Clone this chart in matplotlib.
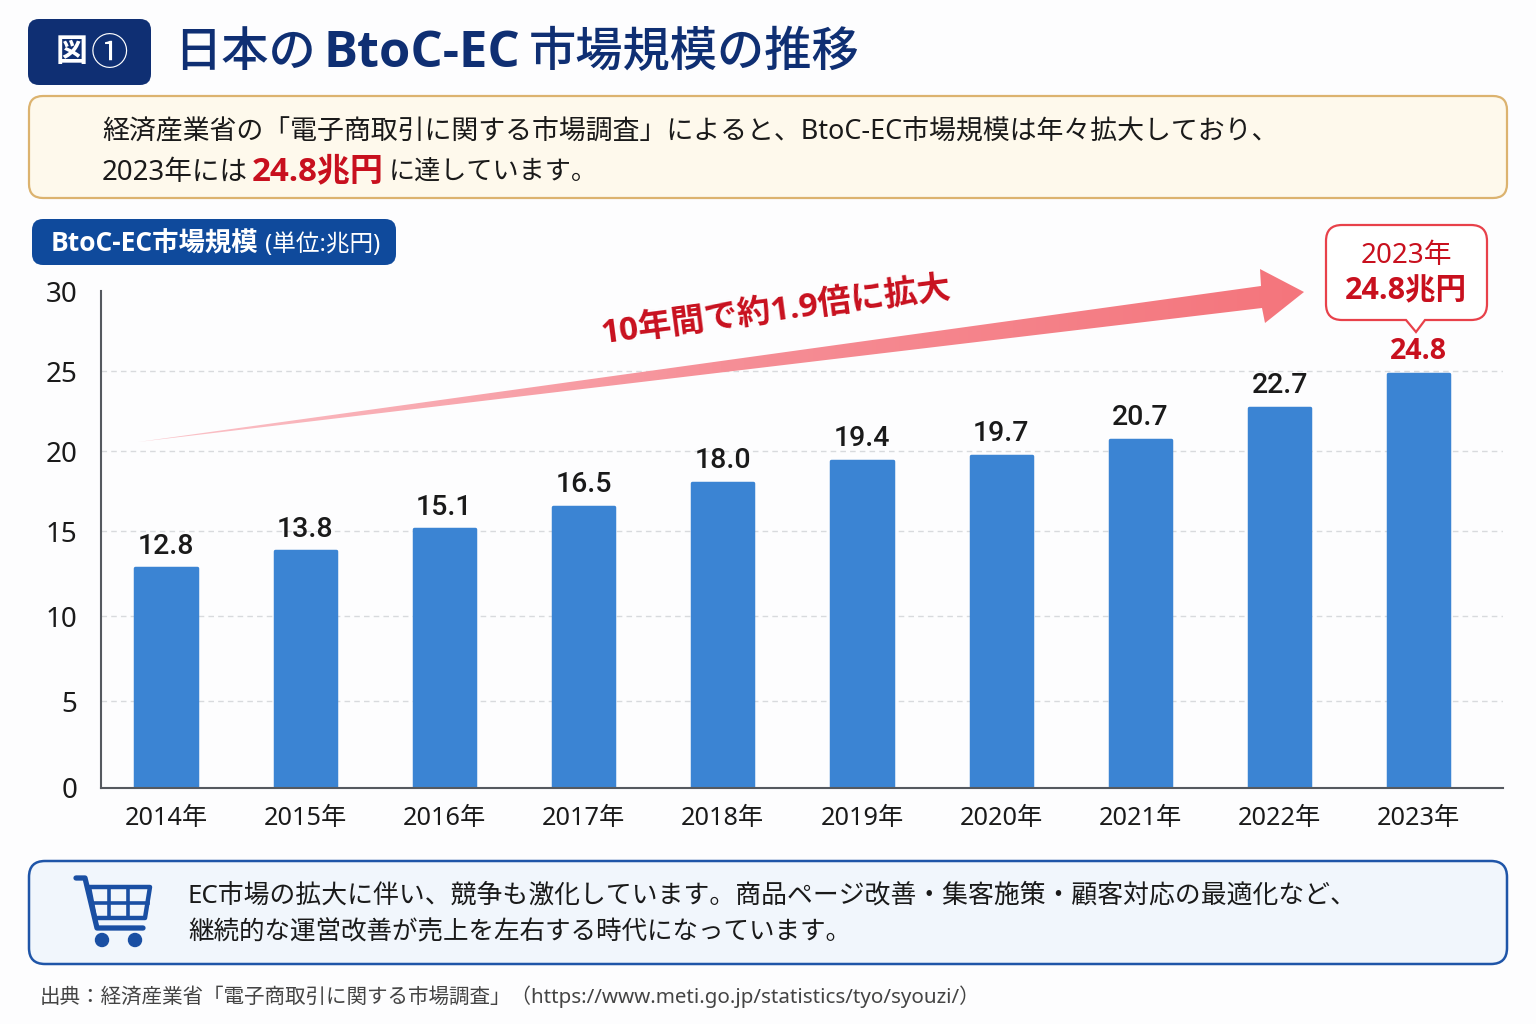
import matplotlib
matplotlib.use('Agg')
import matplotlib.pyplot as plt
import numpy as np
from matplotlib.colors import LinearSegmentedColormap
from matplotlib.patches import Circle, FancyBboxPatch, PathPatch, Polygon
from matplotlib.path import Path

# 本文の英数字は Noto Sans、太字は Open Sans、数値ラベルは Roboto、かな漢字は CJK フォントに任せる
plt.rcParams['font.family'] = ['Noto Sans', 'Noto Sans CJK JP', 'DejaVu Sans']
HEAVY = ['Open Sans', 'Noto Sans CJK JP', 'DejaVu Sans']
MEDIUM = ['Roboto', 'Noto Sans CJK JP', 'DejaVu Sans']

years = ['2014年', '2015年', '2016年', '2017年', '2018年',
         '2019年', '2020年', '2021年', '2022年', '2023年']
market_size = [12.8, 13.8, 15.1, 16.5, 18.0, 19.4, 19.7, 20.7, 22.7, 24.8]
y_ticks = [0, 5, 10, 15, 20, 25, 30]
# 目盛りの間隔は下側がやや広い (軸の高さに対する割合)
y_tick_heights = [0, 0.175, 0.346, 0.517, 0.678, 0.839, 1.0]

NAVY = '#0f2f73'
BLUE = '#3b84d3'
RED = '#c8101e'
INK = '#1a1a1a'

W, H = 1536, 1024
fig = plt.figure(figsize=(W / 100, H / 100), dpi=100, facecolor='#fdfdfe')


def pos(left, top, right, bottom):
    return [left / W, 1 - bottom / H, (right - left) / W, (bottom - top) / H]


# ---- 棒グラフ本体 ----
ax = fig.add_axes(pos(101, 291, 1503, 788), facecolor='none')
ax.set_yscale('function', functions=(
    lambda v: np.interp(v, y_ticks, y_tick_heights),
    lambda h: np.interp(h, y_tick_heights, y_ticks),
))
x = np.arange(len(years))
for v in y_ticks[1:-1]:
    ax.axhline(v, color='#d8dadd', linewidth=1.0, linestyle=(0, (4, 3)), zorder=0)
bars = ax.bar(x, market_size, width=0.44, color=BLUE, edgecolor=BLUE,
              linewidth=2.5, joinstyle='round', zorder=2)
ax.set_xlim(-0.467, 9.605)
ax.set_ylim(0, 30)
ax.set_yticks(y_ticks)
ax.set_xticks(x, years)
ax.minorticks_off()
ax.tick_params(axis='both', length=0, labelcolor=INK)
ax.tick_params(axis='y', labelsize=20, pad=17)
ax.tick_params(axis='x', labelsize=18.2, pad=13)
for side in ['top', 'right']:
    ax.spines[side].set_visible(False)
for side in ['left', 'bottom']:
    ax.spines[side].set_color('#55595f')
    ax.spines[side].set_linewidth(1.5)

for i, v in enumerate(market_size):
    last = i == len(market_size) - 1
    ax.annotate(f'{v:.1f}', xy=(i, v), xytext=(0, 16), textcoords='offset points',
                ha='center', va='center', fontsize=20.5, family=HEAVY if last else MEDIUM,
                color=RED if last else INK, fontweight='bold' if last else 'medium')

# ---- 見出し・枠・注釈はピクセル座標のレイヤーに描く ----
ov = fig.add_axes([0, 0, 1, 1], facecolor='none')
ov.set_xlim(0, W)
ov.set_ylim(H, 0)
ov.axis('off')


def box(left, top, right, bottom, radius, face, edge='none', lw=1.5):
    ov.add_patch(FancyBboxPatch((left + radius, top + radius),
                                right - left - 2 * radius, bottom - top - 2 * radius,
                                boxstyle=f'round,pad={radius},rounding_size={radius}',
                                facecolor=face, edgecolor=edge, linewidth=lw))


# タイトル
box(28, 19, 151, 85, 11, NAVY)
ov.text(72, 53, '図', color='white', fontsize=23, fontweight='bold', ha='center', va='center')
ov.text(109, 55, '①', color='white', fontsize=27, ha='center', va='center')
ov.text(174, 54, '日本の', color=NAVY, fontsize=34, fontweight='medium', ha='left', va='center')
ov.text(324, 54, 'BtoC-EC', color=NAVY, fontsize=36.5, fontweight='bold', family=HEAVY, ha='left', va='center')
ov.text(529, 54, '市場規模の推移', color=NAVY, fontsize=34, fontweight='medium', ha='left', va='center')

# リード文
box(29, 96, 1507, 198, 14, '#fef9ec', '#dcb36f', 1.6)
ov.text(102, 131, '経済産業省の「電子商取引に関する市場調査」によると、BtoC-EC市場規模は年々拡大しており、',
        color=INK, fontsize=19.4, ha='left', va='center')
ov.text(102, 173, '2023年には', color=INK, fontsize=19.9, ha='left', va='center')
ov.text(252, 172, '24.8兆円', color=RED, fontsize=23.8, fontweight='bold', family=HEAVY, ha='left', va='center')
ov.text(389, 173, 'に達しています。', color=INK, fontsize=18.8, ha='left', va='center')

# 単位ラベル
box(32, 219, 396, 265, 11, '#0f4a9c')
ov.text(51, 244, 'BtoC-EC市場規模', color='white', fontsize=19, fontweight='bold', family=HEAVY,
        ha='left', va='center')
ov.text(265, 245, '(単位:兆円)', color='white', fontsize=17, ha='left', va='center')

# 拡大を示すグラデーションの矢印
arrow_pts = [(138, 442), (1261, 286), (1260, 269), (1304, 292), (1265, 323), (1262, 308)]
arrow_cmap = LinearSegmentedColormap.from_list('arrow', ['#fbc4ca', '#f68f97', '#f4757c'])
grad = ov.imshow(np.linspace(0, 1, 256).reshape(1, -1), cmap=arrow_cmap, aspect='auto',
                 extent=(138, 1305, 445, 265), zorder=3)
arrow_clip = Polygon(arrow_pts, closed=True, transform=ov.transData)
grad.set_clip_path(arrow_clip)
ov.set_xlim(0, W)
ov.set_ylim(H, 0)
ov.text(776, 311, '10年間で約1.9倍に拡大', color=RED, fontsize=24, fontweight='bold', family=HEAVY,
        rotation=7.5, rotation_mode='anchor', ha='center', va='center', zorder=4)

# 吹き出し
l, t, r, b, c = 1326, 225, 1487, 320, 16
verts = [(l + c, t), (r - c, t), (r, t), (r, t + c), (r, b - c), (r, b), (r - c, b),
         (1425, b), (1416, 332), (1406, b), (l + c, b), (l, b), (l, b - c),
         (l, t + c), (l, t), (l + c, t), (l + c, t)]
codes = [Path.MOVETO, Path.LINETO, Path.CURVE3, Path.CURVE3, Path.LINETO, Path.CURVE3, Path.CURVE3,
         Path.LINETO, Path.LINETO, Path.LINETO, Path.LINETO, Path.CURVE3, Path.CURVE3,
         Path.LINETO, Path.CURVE3, Path.CURVE3, Path.CLOSEPOLY]
ov.add_patch(PathPatch(Path(verts, codes), facecolor='white', edgecolor='#e8414a', linewidth=1.6, zorder=3))
ov.text(1406, 256, '2023年', color=RED, fontsize=20, ha='center', va='center', zorder=4)
ov.text(1406, 291, '24.8兆円', color=RED, fontsize=22, fontweight='bold', family=HEAVY,
        ha='center', va='center', zorder=4)

# 下部のメッセージ枠とカートのアイコン
box(29, 861, 1507, 964, 16, '#f1f6fc', '#1f55a8', 1.8)
CART = '#1a4fa3'
ov.plot([76, 85, 97, 143], [878, 878, 928, 928], color=CART, linewidth=3.8,
        solid_capstyle='round', solid_joinstyle='round')
ov.add_patch(Polygon([(89, 887), (150, 887), (145, 918), (95, 918)], closed=True,
                     facecolor='none', edgecolor=CART, linewidth=3.2, joinstyle='round'))
ov.plot([109, 109], [887, 918], color=CART, linewidth=2.6)
ov.plot([128, 128], [887, 918], color=CART, linewidth=2.6)
ov.plot([91, 148], [902.5, 902.5], color=CART, linewidth=2.6)
ov.add_patch(Circle((102, 940), 6.5, color=CART))
ov.add_patch(Circle((135, 940), 6.5, color=CART))
ov.text(188, 896, 'EC市場の拡大に伴い、競争も激化しています。商品ページ改善・集客施策・顧客対応の最適化など、',
        color=INK, fontsize=18.6, ha='left', va='center')
ov.text(188, 933, '継続的な運営改善が売上を左右する時代になっています。',
        color=INK, fontsize=18.4, ha='left', va='center')

# 出典
ov.text(40, 997, '出典：経済産業省「電子商取引に関する市場調査」（https://www.meti.go.jp/statistics/tyo/syouzi/）',
        color='#444444', fontsize=14.8, ha='left', va='center')

fig.savefig('out.png', dpi=100, facecolor=fig.get_facecolor())
